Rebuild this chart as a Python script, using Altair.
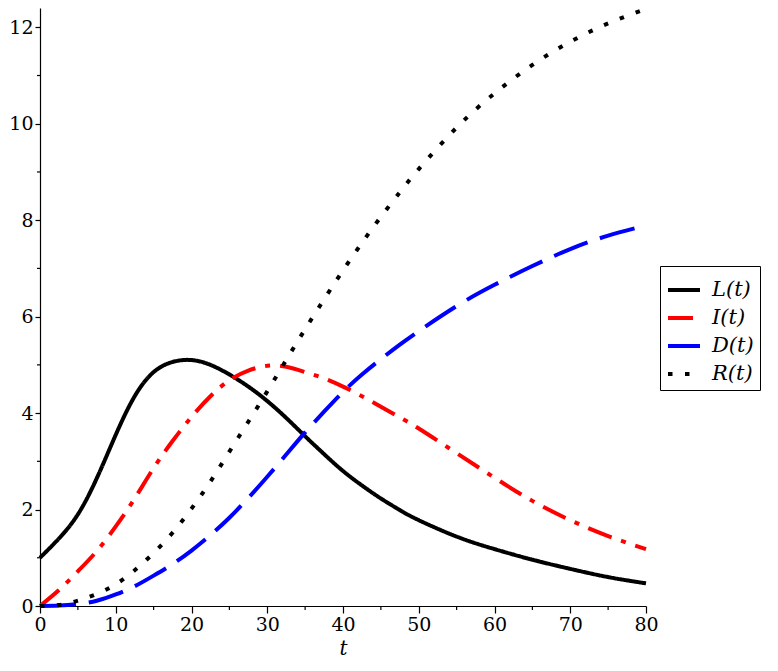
import altair as alt
import pandas as pd

# ---- data ----
t_vals = [0, 2.5, 5, 7.5, 10, 12.5, 15, 17.5, 20, 22.5, 25, 27.5, 30, 32.5, 35,
          37.5, 40, 42.5, 45, 47.5, 50, 55, 60, 65, 70, 75, 80]

L_vals = [1.0, 1.40, 1.90, 2.65, 3.55, 4.35, 4.85, 5.06, 5.10, 5.00, 4.80, 4.55, 4.25, 3.90, 3.52,
          3.15, 2.80, 2.50, 2.23, 1.99, 1.78, 1.44, 1.18, 0.96, 0.77, 0.60, 0.47]

I_vals = [0.0, 0.33, 0.72, 1.14, 1.65, 2.23, 2.86, 3.42, 3.92, 4.35, 4.68, 4.88, 4.98, 4.96, 4.85,
          4.72, 4.55, 4.35, 4.13, 3.91, 3.68, 3.17, 2.66, 2.18, 1.78, 1.45, 1.18]

D_vals = [0.0, 0.01, 0.04, 0.11, 0.24, 0.41, 0.63, 0.87, 1.15, 1.47, 1.83, 2.24, 2.68, 3.14, 3.60,
          4.03, 4.44, 4.80, 5.12, 5.42, 5.70, 6.22, 6.66, 7.05, 7.40, 7.68, 7.89]

R_vals = [0.0, 0.02, 0.11, 0.25, 0.45, 0.74, 1.10, 1.52, 2.02, 2.58, 3.20, 3.82, 4.45, 5.10, 5.74,
          6.36, 6.96, 7.53, 8.07, 8.58, 9.06, 9.92, 10.63, 11.22, 11.70, 12.08, 12.38]

series_names = ["L(t)", "I(t)", "D(t)", "R(t)"]
series_colors = ["#000000", "#FF0000", "#0000FF", "#000000"]
series_dashes = [[1, 0], [25, 10, 5, 10], [36, 13], [4.5, 12.5]]

y_major = [0, 2, 4, 6, 8, 10, 12]
y_minor = [1, 3, 5, 7, 9, 11]
x_major = [0, 10, 20, 30, 40, 50, 60, 70, 80]
x_minor = [5, 15, 25, 35, 45, 55, 65, 75]

rows = []
for name, vals in zip(series_names, [L_vals, I_vals, D_vals, R_vals]):
    for i, (t, v) in enumerate(zip(t_vals, vals)):
        rows.append({"t": t, "value": v, "series": name, "order": i})
df = pd.DataFrame(rows)

W, H = 606, 598
FONT = "DejaVu Serif"

x_scale = alt.Scale(domain=[0, 80], nice=False, zero=False)
y_scale = alt.Scale(domain=[0, 12.4], nice=False, zero=False)

legend = alt.Legend(title=None, orient="none", legendX=620, legendY=258,
                    symbolType="stroke", symbolSize=1024, symbolStrokeWidth=4,
                    labelFont=FONT, labelFontSize=21, labelFontStyle="italic",
                    labelColor="black", labelOffset=10, rowPadding=0,
                    strokeColor="black", fillColor="white", padding=6, cornerRadius=0)

lines = alt.Chart(df).mark_line(strokeWidth=4, interpolate="natural").encode(
    x=alt.X("t:Q", scale=x_scale,
            axis=alt.Axis(values=x_major, title="t", titleFontStyle="italic",
                          titleFont=FONT, titleFontSize=20, titleFontWeight="normal",
                          titleY=48, titleBaseline="alphabetic",
                          tickSize=7, labelPadding=2, labelFlush=False, format="d")),
    y=alt.Y("value:Q", scale=y_scale,
            axis=alt.Axis(values=y_major, title=None, tickSize=5, labelPadding=2, format="d")),
    color=alt.Color("series:N",
                    scale=alt.Scale(domain=series_names, range=series_colors),
                    legend=legend),
    strokeDash=alt.StrokeDash("series:N",
                              scale=alt.Scale(domain=series_names, range=series_dashes),
                              legend=legend),
    order="order:Q",
)

ymin_df = pd.DataFrame({"v": y_minor})
xmin_df = pd.DataFrame({"v": x_minor})

y_minor_ticks = alt.Chart(ymin_df).mark_rule(color="black", strokeWidth=1.2).encode(
    y=alt.Y("v:Q", scale=y_scale),
    x=alt.value(-3), x2=alt.value(0),
)
x_minor_ticks = alt.Chart(xmin_df).mark_rule(color="black", strokeWidth=1.2).encode(
    x=alt.X("v:Q", scale=x_scale),
    y=alt.value(H), y2=alt.value(H + 4),
)

chart = alt.layer(lines, y_minor_ticks, x_minor_ticks).properties(
    width=W, height=H,
    autosize=alt.AutoSizeParams(type="none"),
    padding={"left": 32, "top": 0, "right": 124, "bottom": 52},
).configure(background="white").configure_view(stroke=None).configure_axis(
    grid=False, domainColor="black", domainWidth=1.2, tickColor="black", tickWidth=1.2,
    labelFont=FONT, labelFontSize=19, labelColor="black", titleColor="black",
)

chart.save("out.html", embed_options={"renderer": "svg", "actions": False})
